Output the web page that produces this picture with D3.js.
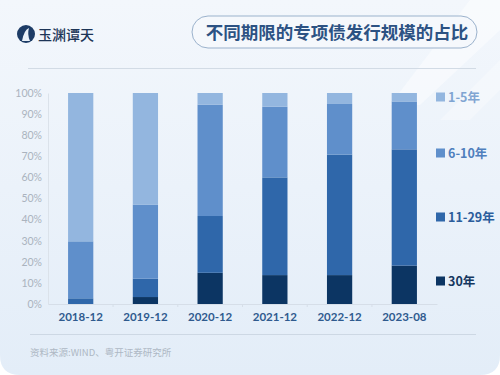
<!doctype html>
<html lang="zh">
<head>
<meta charset="utf-8">
<script src="https://d3js.org/d3.v7.min.js"></script>
<style>
  html, body { margin: 0; padding: 0; background: #ffffff; }
  svg { display: block; font-family: "Noto Sans CJK SC", "Noto Sans", sans-serif; }
</style>
</head>
<body>
<svg id="chart" width="500" height="375"></svg>
<script>
// data (share of issuance, %)
var categories = ["2018-12", "2019-12", "2020-12", "2021-12", "2022-12", "2023-08"];
var seriesNames = ["30年", "11-29年", "6-10年", "1-5年"];
var y30   = [0,    3.3,  14.8, 13.7, 13.7, 18.2];
var y1129 = [2.7,  8.7,  26.9, 46.3, 57.1, 55.1];
var y610  = [27.0, 35.0, 52.8, 33.5, 24.0, 22.7];
var y15   = [70.3, 53.0, 5.5,  6.5,  5.2,  4.0];
var yTicks = [0, 10, 20, 30, 40, 50, 60, 70, 80, 90, 100];

var colors = ["#0c3563", "#2f67aa", "#5f8fcb", "#93b6df"];
var textColors = ["#15375f", "#2b5d9c", "#4f7fbd", "#80a5d2"];

var rows = categories.map(function(c, i) {
  return {cat: c, "30年": y30[i], "11-29年": y1129[i], "6-10年": y610[i], "1-5年": y15[i]};
});

var svg = d3.select("#chart");

// background
var defs = svg.append("defs");
var bg = defs.append("linearGradient").attr("id", "bg").attr("x1", 0).attr("y1", 0).attr("x2", 0).attr("y2", 1);
bg.append("stop").attr("offset", "0%").attr("stop-color", "#f3f7fc");
bg.append("stop").attr("offset", "100%").attr("stop-color", "#e3edf8");

svg.append("path")
  .attr("d", "M0,0 H500 V355 Q500,375 480,375 H20 Q0,375 0,355 Z")
  .attr("fill", "url(#bg)");

// faint diagonal streak top right
svg.append("path")
  .attr("d", "M470,0 L500,0 L500,30 L420,105 L390,105 Z")
  .attr("fill", "#ffffff").attr("opacity", 0.45);
svg.append("path")
  .attr("d", "M500,60 L500,90 L470,120 L440,120 Z")
  .attr("fill", "#ffffff").attr("opacity", 0.3);

// logo
var logo = svg.append("g").attr("transform", "translate(26,34)");
logo.append("circle").attr("r", 9).attr("fill", "#1d3c66");
logo.append("path").attr("d", "M-4,7 Q-2,-4 3,-6 Q1,0 4,7 Z").attr("fill", "#eaf1f9");
logo.append("text").attr("x", 12).attr("y", 5.5)
  .attr("font-size", 14).attr("fill", "#1d3557").attr("font-weight", 500)
  .text("玉渊谭天");

// title pill
svg.append("rect").attr("x", 192).attr("y", 16).attr("width", 285).attr("height", 32)
  .attr("rx", 16).attr("fill", "#f5f8fc").attr("stroke", "#9bb2cc").attr("stroke-width", 1);
svg.append("text").attr("x", 337).attr("y", 38.5).attr("text-anchor", "middle")
  .attr("font-size", 17.5).attr("font-weight", 700).attr("fill", "#2c5283")
  .text("不同期限的专项债发行规模的占比");

// separators
svg.append("line").attr("x1", 28).attr("x2", 476).attr("y1", 68.5).attr("y2", 68.5)
  .attr("stroke", "#d2dbe5").attr("stroke-width", 1.2);
svg.append("line").attr("x1", 30).attr("x2", 476).attr("y1", 334.5).attr("y2", 334.5)
  .attr("stroke", "#cdd8e4").attr("stroke-width", 1.2);

// source
svg.append("text").attr("x", 30).attr("y", 356).attr("font-size", 9.5).attr("fill", "#aeb8c4")
  .text("资料来源:WIND、粤开证券研究所");

// scales
var x = d3.scaleBand().domain(categories).range([48, 437]).paddingInner(0.61).paddingOuter(0.31);
var y = d3.scaleLinear().domain([0, 100]).range([304, 93]);

// y axis
var yAxis = svg.append("g").attr("transform", "translate(48,0)")
  .call(d3.axisLeft(y).tickValues(yTicks).tickFormat(function(d) { return d + "%"; }).tickSize(0).tickPadding(6));
yAxis.select(".domain").attr("stroke", "#dbe2ea");
yAxis.selectAll("text").attr("font-size", 10.5).attr("fill", "#aab3be")
  .attr("font-family", "Lato, 'Noto Sans', sans-serif");

// x axis
var xAxis = svg.append("g").attr("transform", "translate(0,304)")
  .call(d3.axisBottom(x).tickSize(0).tickPadding(9));
xAxis.select(".domain").attr("stroke", "#d6dee8");
xAxis.selectAll("text").attr("font-size", 11.5).attr("font-weight", 700).attr("fill", "#2f5a8e")
  .attr("font-family", "Lato, 'Noto Sans', sans-serif");
// small boundary ticks
var step = x.step();
xAxis.selectAll(".bt").data(categories.slice(1)).enter().append("line")
  .attr("x1", function(d) { return x(d) + x.bandwidth() / 2 - step / 2; })
  .attr("x2", function(d) { return x(d) + x.bandwidth() / 2 - step / 2; })
  .attr("y1", 0).attr("y2", 3).attr("stroke", "#d6dee8");

// stacked bars
var stack = d3.stack().keys(seriesNames);
var layers = stack(rows);

svg.append("g").selectAll("g").data(layers).enter().append("g")
  .attr("fill", function(d, i) { return colors[i]; })
  .selectAll("rect").data(function(d) { return d; }).enter().append("rect")
  .attr("x", function(d) { return x(d.data.cat); })
  .attr("width", x.bandwidth())
  .attr("y", function(d) { return y(d[1]); })
  .attr("height", function(d) { return y(d[0]) - y(d[1]); });

// legend, spaced down the right side of the plot
var legY = [286, 222, 158, 102];
var leg = svg.append("g").selectAll("g").data(seriesNames).enter().append("g")
  .attr("transform", function(d, i) { return "translate(436," + legY[i] + ")"; });
leg.append("rect").attr("x", 0).attr("y", -9.5).attr("width", 9).attr("height", 9)
  .attr("fill", function(d, i) { return colors[i]; });
leg.append("text").attr("x", 12).attr("y", 0)
  .attr("font-size", 12.5).attr("font-weight", 700)
  .attr("fill", function(d, i) { return textColors[i]; })
  .text(function(d) { return d; });
</script>
</body>
</html>
